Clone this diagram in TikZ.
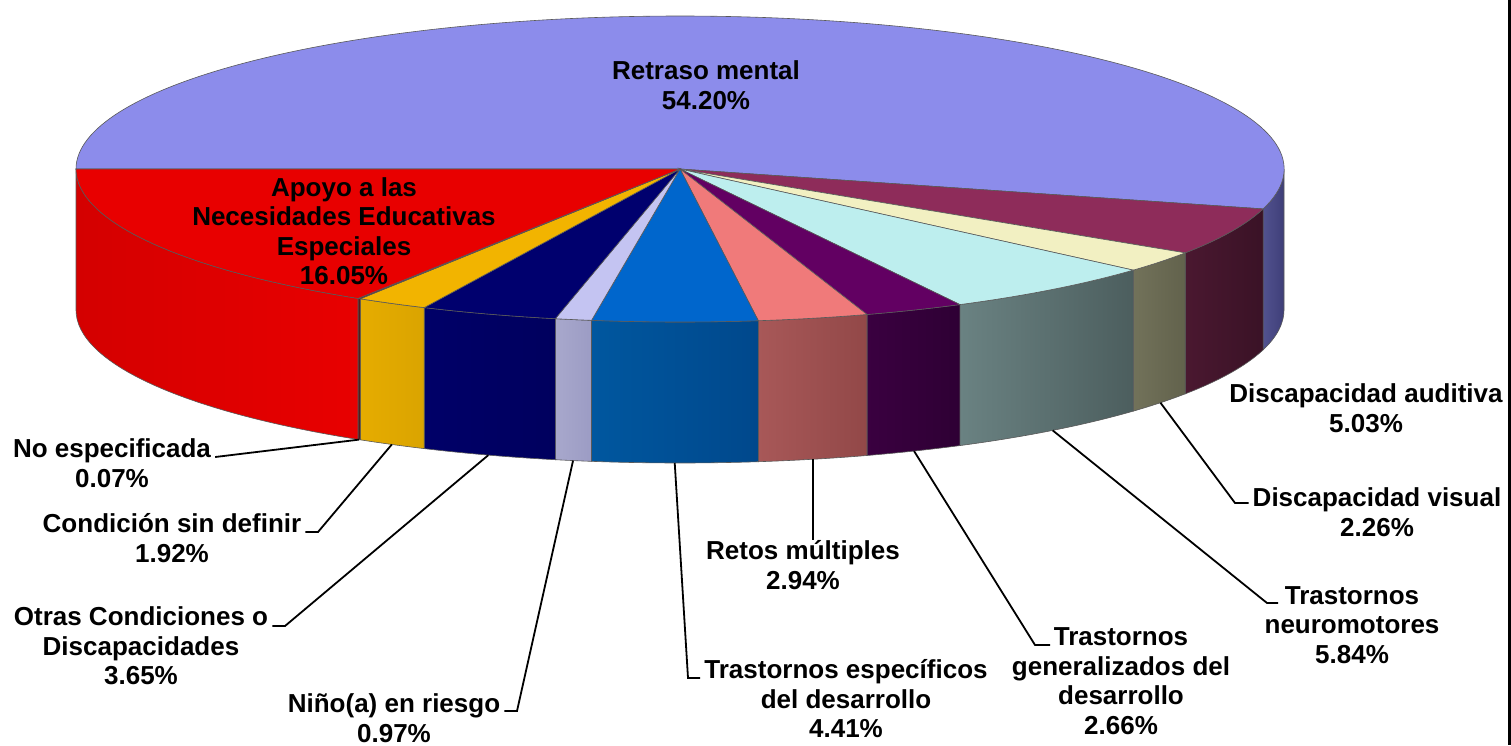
\documentclass[tikz,border=0pt]{standalone}
\usepackage{fontspec}
\setmainfont{Liberation Sans}
\usepackage{tikz}
\usetikzlibrary{calc,positioning}
\definecolor{retraso}{HTML}{8C8CEB}
\definecolor{retrasoL}{HTML}{52528F}
\definecolor{retrasoR}{HTML}{3E3E78}
\definecolor{auditiva}{HTML}{8E2C5A}
\definecolor{auditivaL}{HTML}{4A1830}
\definecolor{auditivaR}{HTML}{3A1226}
\definecolor{visual}{HTML}{F2F0C2}
\definecolor{visualL}{HTML}{72725A}
\definecolor{visualR}{HTML}{62624C}
\definecolor{neuro}{HTML}{BDEEEE}
\definecolor{neuroL}{HTML}{6A8282}
\definecolor{neuroR}{HTML}{4C5E5E}
\definecolor{general}{HTML}{620062}
\definecolor{generalL}{HTML}{3A0040}
\definecolor{generalR}{HTML}{2E0034}
\definecolor{retos}{HTML}{F07A7A}
\definecolor{retosL}{HTML}{A85858}
\definecolor{retosR}{HTML}{924848}
\definecolor{espec}{HTML}{0066CC}
\definecolor{especL}{HTML}{00579F}
\definecolor{especR}{HTML}{00488C}
\definecolor{nino}{HTML}{C4C4F2}
\definecolor{ninoL}{HTML}{A8A8CC}
\definecolor{ninoR}{HTML}{9C9CC4}
\definecolor{otras}{HTML}{00006E}
\definecolor{otrasL}{HTML}{000068}
\definecolor{otrasR}{HTML}{00005E}
\definecolor{cond}{HTML}{F2B400}
\definecolor{condL}{HTML}{E6AC00}
\definecolor{condR}{HTML}{DAA400}
\definecolor{noesp}{HTML}{5A1010}
\definecolor{apoyo}{HTML}{E80000}
\definecolor{apoyoL}{HTML}{D40000}
\definecolor{apoyoR}{HTML}{E80000}
% top of a slice: start angle, end angle, colour
\newcommand{\pietop}[3]{%
 \filldraw[rim, fill=#3] (c) -- ($(c)+(#1:604 and 153)$)
  arc[start angle=#1, end angle=#2, x radius=604, y radius=153] -- cycle;}
% front wall of a slice: start angle, end angle, left and right colour
\newcommand{\pieside}[4]{%
 \shadedraw[rim, left color=#3, right color=#4] ($(c)+(#1:604 and 153)$)
  arc[start angle=#1, end angle=#2, x radius=604, y radius=153]
  -- ++(0,-141)
  arc[start angle=#2, end angle=#1, x radius=604, y radius=153] -- cycle;}

\begin{document}
\begin{tikzpicture}[x=1pt, y=1pt,
 lbl/.style={font=\fontsize{26}{29.5}\selectfont\bfseries, align=center, inner xsep=4pt, inner ysep=0pt},
 leader/.style={line width=1.8pt},
 rim/.style={draw=black!65, line width=0.6pt}]
\useasboundingbox (0,0) rectangle (1511,-745);
\coordinate (c) at (680,-169);
\coordinate (bc) at (680,-310);

% walls
\pieside{-15.12}{0}{retrasoL}{retrasoR}
\pieside{-33.228}{-15.12}{auditivaL}{auditivaR}
\pieside{-41.364}{-33.228}{visualL}{visualR}
\pieside{-62.388}{-41.364}{neuroL}{neuroR}
\pieside{-71.964}{-62.388}{generalL}{generalR}
\pieside{-82.548}{-71.964}{retosL}{retosR}
\pieside{-98.424}{-82.548}{especL}{especR}
\pieside{-101.916}{-98.424}{ninoL}{ninoR}
\pieside{-115.056}{-101.916}{otrasL}{otrasR}
\pieside{-121.968}{-115.056}{condL}{condR}
\pieside{-122.22}{-121.968}{noesp}{noesp}
\pieside{-180}{-122.22}{apoyoL}{apoyoR}

% tops
\pietop{-15.12}{180}{retraso}
\pietop{-33.228}{-15.12}{auditiva}
\pietop{-41.364}{-33.228}{visual}
\pietop{-62.388}{-41.364}{neuro}
\pietop{-71.964}{-62.388}{general}
\pietop{-82.548}{-71.964}{retos}
\pietop{-98.424}{-82.548}{espec}
\pietop{-101.916}{-98.424}{nino}
\pietop{-115.056}{-101.916}{otras}
\pietop{-121.968}{-115.056}{cond}
\pietop{-122.22}{-121.968}{noesp}
\pietop{-180}{-122.22}{apoyo}

% nodes
\node[lbl] (retraso-l) at (706,-85) {Retraso mental\\54.20\%};
\node[lbl] (apoyo-l) at (344,-231) {Apoyo a las\\Necesidades Educativas\\Especiales\\16.05\%};
\node[lbl] (auditiva-l) at (1366,-408) {Discapacidad auditiva\\5.03\%};
\node[lbl] (visual-l) at (1377,-512) {Discapacidad visual\\2.26\%};
\node[lbl] (neuro-l) at (1352,-625) {Trastornos\\neuromotores\\5.84\%};
\node[lbl] (general-l) at (1121,-681) {Trastornos\\generalizados del\\desarrollo\\2.66\%};
\node[lbl] (retos-l) at (803,-565) {Retos múltiples\\2.94\%};
\node[lbl] (espec-l) at (846,-699) {Trastornos específicos\\del desarrollo\\4.41\%};
\node[lbl] (nino-l) at (394,-718) {Niño(a) en riesgo\\0.97\%};
\node[lbl] (otras-l) at (141,-646) {Otras Condiciones o\\Discapacidades\\3.65\%};
\node[lbl] (cond-l) at (172,-538) {Condición sin definir\\1.92\%};
\node[lbl] (noesp-l) at (112,-463) {No especificada\\0.07\%};

% leaders
\coordinate (visual-p) at ($(bc)+(-37.3:604 and 153)$);
\coordinate (neuro-p) at ($(bc)+(-51.9:604 and 153)$);
\coordinate (general-p) at ($(bc)+(-67.2:604 and 153)$);
\coordinate (retos-p) at ($(bc)+(-77.3:604 and 153)$);
\coordinate (espec-p) at ($(bc)+(-90.5:604 and 153)$);
\coordinate (nino-p) at ($(bc)+(-100.2:604 and 153)$);
\coordinate (otras-p) at ($(bc)+(-108.5:604 and 153)$);
\coordinate (cond-p) at ($(bc)+(-118.5:604 and 153)$);
\coordinate (noesp-p) at ($(bc)+(-122.1:604 and 153)$);
\coordinate (visual-k) at (1235,-503);
\coordinate (neuro-k) at (1267,-603);
\coordinate (neuro-e) at (1278,-603);
\coordinate (general-k) at (1035,-645);
\coordinate (general-e) at (1050,-645);
\coordinate (espec-k) at (688,-678);
\coordinate (nino-k) at (517,-711);
\coordinate (otras-k) at (285,-626);
\coordinate (cond-k) at (318,-532);
\coordinate (noesp-k) at (218,-457);
\draw[leader] (visual-p) -- (visual-k) -- (visual-l.west |- visual-k);
\draw[leader] (neuro-p) -- (neuro-k) -- (neuro-e);
\draw[leader] (general-p) -- (general-k) -- (general-e);
\draw[leader] (retos-p) -- (retos-p |- retos-l.north);
\draw[leader] (espec-p) -- (espec-k) -- (espec-l.west |- espec-k);
\draw[leader] (nino-p) -- (nino-k) -- (nino-l.east |- nino-k);
\draw[leader] (otras-p) -- (otras-k) -- (otras-l.east |- otras-k);
\draw[leader] (cond-p) -- (cond-k) -- (cond-l.east |- cond-k);
\draw[leader] (noesp-p) -- (noesp-l.east |- noesp-k);

% right border
\draw[line width=3pt] (1509.5,0) -- (1509.5,-745);
\end{tikzpicture}
\end{document}
